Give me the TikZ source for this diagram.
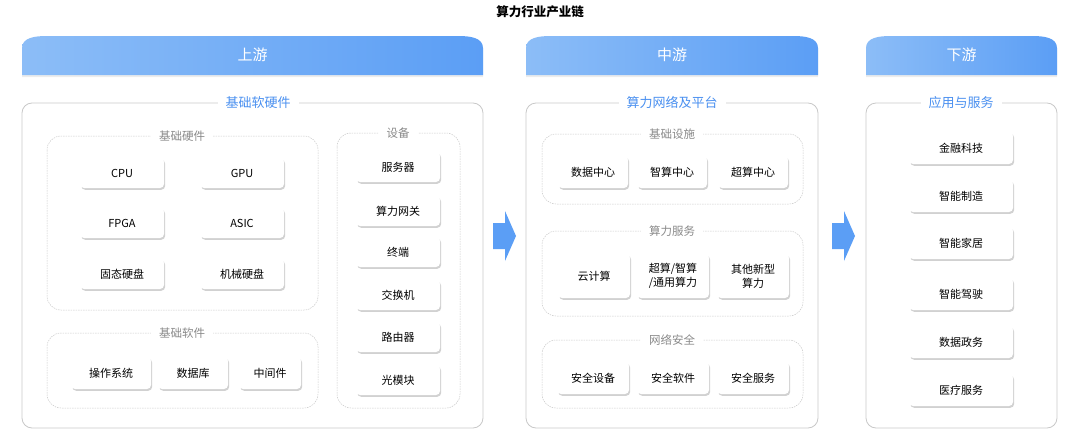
\documentclass[tikz,border=0pt]{standalone}
\usepackage{fontspec}
\setmainfont{Noto Sans CJK SC}
\usetikzlibrary{shadows}
\definecolor{blu}{HTML}{4A90F0}
\definecolor{bluL}{HTML}{8CBDF7}
\definecolor{bluD}{HTML}{5B9EF5}
\definecolor{gline}{HTML}{C8C8C8}
\definecolor{gtxt}{HTML}{8A8A8A}
\tikzset{
  panel/.style={draw=gline, rounded corners=10pt, line width=0.8pt},
  sub/.style={draw=gline, dashed, dash pattern=on 1.5pt off 1pt, rounded corners=14pt, line width=0.5pt},
  plabel/.style={fill=white, text=blu, font=\fontsize{13}{15}\selectfont, inner xsep=8pt},
  slabel/.style={fill=white, text=gtxt, font=\fontsize{11.5}{13}\selectfont, inner xsep=8pt},
  card/.style={fill=white, rounded corners=4pt, font=\fontsize{11}{14}\selectfont, align=center,
    drop shadow={shadow xshift=1.2pt, shadow yshift=-1.8pt, fill=black!30, opacity=0.6}},
  bannertxt/.style={text=white, font=\fontsize{15}{17}\selectfont},
  bigarrow/.style={fill=bluD, draw=none},
}
\newcommand{\banner}[5]{%
  \shade[left color=bluL, right color=bluD, drop shadow={shadow xshift=0pt, shadow yshift=-2pt, fill=black!15, opacity=0.5}]
    (#1,75) -- (#1,48) to[out=90,in=180] (#1+25,36) -- (#2-25,36) to[out=0,in=90] (#2,48) -- (#2,75) -- cycle;
  \node[bannertxt] (#4) at ({(#1+#2)/2},55) {#3};}
\begin{document}
\begin{tikzpicture}[x=1pt,y=-1pt]
\useasboundingbox (0,0) rectangle (1080,434);
\node[font=\fontsize{12.5}{14}\selectfont\bfseries] (title) at (540,12) {算力行业产业链};
\banner{22}{483}{上游}{b1}{}
\banner{526}{818}{中游}{b2}{}
\banner{866}{1057}{下游}{b3}{}
% panels
\draw[panel] (22,103) rectangle (483,428);
\draw[panel] (526,103) rectangle (818,428);
\draw[panel] (866,103) rectangle (1057,428);
\node[plabel] (p1) at (258,103) {基础软硬件};
\node[plabel] (p2) at (672,103) {算力网络及平台};
\node[plabel] (p3) at (961,103) {应用与服务};
% left sub boxes
\draw[sub] (47,136) rectangle (318,310);
\node[slabel] (s1) at (182,136) {基础硬件};
\draw[sub] (47,333) rectangle (318,408);
\node[slabel] (s2) at (182,333) {基础软件};
\draw[sub] (337,133) rectangle (460,408);
\node[slabel] (s3) at (398,133) {设备};
\foreach \t/\x/\y [count=\i] in {CPU/122/173,GPU/242/173,FPGA/122/223,ASIC/242/223,固态硬盘/122/274,机械硬盘/242/274}
  \node[card, minimum width=84pt, minimum height=30pt] (hw\i) at (\x,\y) {\t};
\node[card, minimum width=80pt, minimum height=32pt] (sw1) at (111,373) {操作系统};
\node[card, minimum width=70pt, minimum height=32pt] (sw2) at (193,373) {数据库};
\node[card, minimum width=62pt, minimum height=32pt] (sw3) at (270,373) {中间件};
\foreach \t/\y [count=\i] in {服务器/167,算力网关/211,终端/252,交换机/295,路由器/337,光模块/380}
  \node[card, minimum width=84pt, minimum height=30pt] (dv\i) at (398,\y) {\t};
% middle
\draw[sub] (542,134) rectangle (803,204);
\node[slabel] (m1) at (672,134) {基础设施};
\draw[sub] (542,231) rectangle (803,316);
\node[slabel] (m2) at (672,231) {算力服务};
\draw[sub] (542,340) rectangle (803,408);
\node[slabel] (m3) at (672,340) {网络安全};
\foreach \t/\x [count=\i] in {数据中心/593,智算中心/672,超算中心/753}
  \node[card, minimum width=70pt, minimum height=32pt] (in\i) at (\x,172) {\t};
\node[card, minimum width=72pt, minimum height=44pt] (cs1) at (594,276) {云计算};
\node[card, minimum width=72pt, minimum height=44pt] (cs2) at (673,276) {超算/智算\\/通用算力};
\node[card, minimum width=72pt, minimum height=44pt] (cs3) at (753,276) {其他新型\\算力};
\foreach \t/\x [count=\i] in {安全设备/593,安全软件/673,安全服务/753}
  \node[card, minimum width=72pt, minimum height=32pt] (sc\i) at (\x,378) {\t};
% right
\foreach \t/\y [count=\i] in {金融科技/148,智能制造/196,智能家居/243,智能驾驶/294,数据政务/342,医疗服务/390}
  \node[card, minimum width=104pt, minimum height=32pt] (ap\i) at (961,\y) {\t};
% arrows
\fill[bigarrow] (493,223) -- (505,223) -- (505,211) -- (516,236) -- (505,261) -- (505,249) -- (493,249) -- cycle;
\fill[bigarrow] (832,223) -- (844,223) -- (844,211) -- (855,236) -- (844,261) -- (844,249) -- (832,249) -- cycle;
\end{tikzpicture}
\end{document}
